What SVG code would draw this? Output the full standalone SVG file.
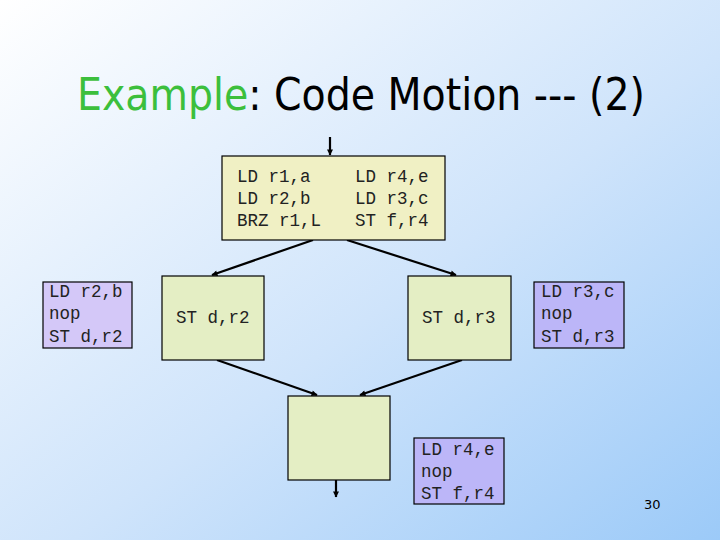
<svg xmlns="http://www.w3.org/2000/svg" width="720" height="540" viewBox="0 0 720 540">
<defs>
<linearGradient id="bg" x1="0" y1="0" x2="1" y2="1">
<stop offset="0" stop-color="#ffffff"/>
<stop offset="0.55" stop-color="#cfe4fb"/>
<stop offset="1" stop-color="#9ccaf8"/>
</linearGradient>
<marker id="ah" viewBox="0 0 10 10" refX="9" refY="5" markerWidth="7" markerHeight="6" orient="auto" markerUnits="userSpaceOnUse">
<path d="M0,0 L10,5 L0,10 z" fill="#000"/>
</marker>
</defs>
<style>
.yb{fill:#f0f0c4;stroke:#000;stroke-width:1.2}
.gb{fill:#e4eec4;stroke:#000;stroke-width:1.2}
.pb1{fill:#d4c8f8;stroke:#000;stroke-width:1.2}
.pb2{fill:#bcb6f8;stroke:#000;stroke-width:1.2}
.code{font-family:"Liberation Mono","Courier New",monospace;font-size:17.5px;fill:#222}
.edge{stroke:#000;stroke-width:2.2;fill:none;marker-end:url(#ah)}
</style>
<rect width="720" height="540" fill="url(#bg)"/>
<text x="77" y="110" font-family="'DejaVu Sans Condensed','Liberation Sans',sans-serif" font-size="44" textLength="568" lengthAdjust="spacingAndGlyphs"><tspan fill="#3cbf3c">Example</tspan><tspan fill="#000">: Code Motion --- (2)</tspan></text>
<g id="connectors">
<line class="edge" x1="330" y1="137" x2="330" y2="155"/>
<line class="edge" x1="313" y1="240" x2="212" y2="275"/>
<line class="edge" x1="347" y1="240" x2="456" y2="275"/>
<line class="edge" x1="217" y1="360" x2="317" y2="395"/>
<line class="edge" x1="462" y1="360" x2="360" y2="395"/>
<line class="edge" x1="336" y1="480" x2="336" y2="497"/>
</g>
<g id="top">
<rect class="yb" x="222" y="156" width="223" height="84"/>
<text class="code" x="237" y="182">LD r1,a</text>
<text class="code" x="237" y="204">LD r2,b</text>
<text class="code" x="237" y="226">BRZ r1,L</text>
<text class="code" x="355" y="182">LD r4,e</text>
<text class="code" x="355" y="204">LD r3,c</text>
<text class="code" x="355" y="226">ST f,r4</text>
</g>
<g id="left-purple">
<rect class="pb1" x="43" y="282" width="89" height="66"/>
<text class="code" x="49" y="297">LD r2,b</text>
<text class="code" x="49" y="319">nop</text>
<text class="code" x="49" y="342">ST d,r2</text>
</g>
<g id="std-r2">
<rect class="gb" x="162" y="276" width="102" height="84"/>
<text class="code" x="176" y="323">ST d,r2</text>
</g>
<g id="std-r3">
<rect class="gb" x="408" y="276" width="103" height="84"/>
<text class="code" x="422" y="323">ST d,r3</text>
</g>
<g id="right-purple">
<rect class="pb2" x="534" y="282" width="90" height="66"/>
<text class="code" x="541" y="297">LD r3,c</text>
<text class="code" x="541" y="319">nop</text>
<text class="code" x="541" y="342">ST d,r3</text>
</g>
<g id="bottom">
<rect class="gb" x="288" y="396" width="102" height="84"/>
</g>
<g id="bottom-purple">
<rect class="pb2" x="414" y="438" width="90" height="66"/>
<text class="code" x="421" y="455">LD r4,e</text>
<text class="code" x="421" y="477">nop</text>
<text class="code" x="421" y="499">ST f,r4</text>
</g>
<text x="644" y="509" font-family="'DejaVu Sans','Liberation Sans',sans-serif" font-size="13" fill="#000">30</text>
</svg>
